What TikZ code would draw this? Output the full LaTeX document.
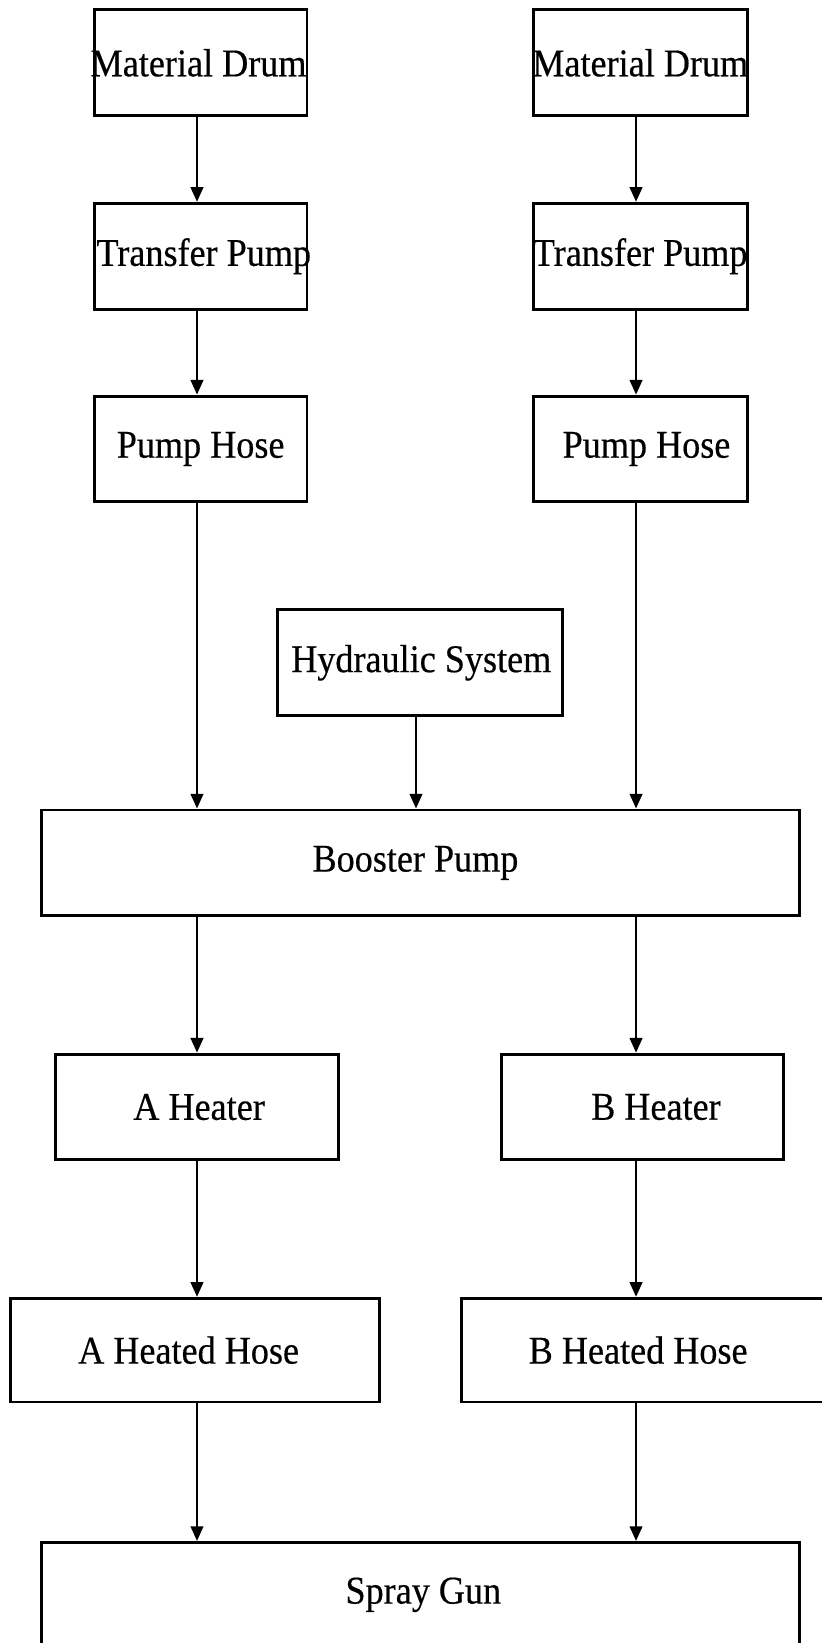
\documentclass[tikz,border=0pt]{standalone}
\usepackage{fontspec}
\setmainfont[FakeStretch=0.92,FakeBold=0.4]{Liberation Serif}
\usetikzlibrary{arrows.meta}
\newcommand{\boxtext}[2]{\makebox[0pt]{\hspace*{#1}#2}}
\begin{document}
\begin{tikzpicture}[x=1pt,y=-1pt,
  box/.style={draw, line width=2.8pt, rectangle, inner sep=0pt, minimum height=101pt,
    font=\fontsize{37.5}{42}\selectfont},
  arr/.style={line width=2.2pt, -{Triangle[length=14pt,width=12pt]}}]
\useasboundingbox (0,0) rectangle (784,1568);
\fill[white] (0,0) rectangle (784,1568);
\coordinate (xl) at (188,0);
\coordinate (xr) at (607,0);
\coordinate (xm) at (397,0);
\node[box, minimum width=203pt] (md1) at (191.5,60) {\boxtext{-4pt}{Material Drum}};
\node[box, minimum width=204pt] (md2) at (611,60) {\boxtext{0pt}{Material Drum}};
\node[box, minimum width=203pt] (tp1) at (191.5,244.5) {\boxtext{6pt}{Transfer Pump}};
\node[box, minimum width=204pt] (tp2) at (611,244.5) {\boxtext{0pt}{Transfer Pump}};
\node[box, minimum width=203pt] (ph1) at (191.5,428.5) {\boxtext{0pt}{Pump Hose}};
\node[box, minimum width=204pt] (ph2) at (611,428.5) {\boxtext{12pt}{Pump Hose}};
\node[box, minimum width=272pt] (hs) at (401,632.5) {\boxtext{2pt}{Hydraulic System}};
\node[box, minimum width=723pt] (bp) at (401.5,823.5) {\boxtext{-10pt}{Booster Pump}};
\node[box, minimum width=270pt] (ah) at (188,1056.5) {\boxtext{4pt}{A Heater}};
\node[box, minimum width=269pt] (bh) at (613.5,1056.5) {\boxtext{25pt}{B Heater}};
\node[box, minimum width=352pt, minimum height=99pt] (ahh) at (186,1288.5) {\boxtext{-12pt}{A Heated Hose}};
\node[box, minimum width=346pt, minimum height=99pt] (bhh) at (613,1288.5) {\boxtext{-8pt}{B Heated Hose}};
\node[box, minimum width=723pt, minimum height=100pt] (sg) at (401.5,1522) {\boxtext{5pt}{Spray Gun}};
\draw[arr] (md1.south -| xl) -- (tp1.north -| xl);
\draw[arr] (md2.south -| xr) -- (tp2.north -| xr);
\draw[arr] (tp1.south -| xl) -- (ph1.north -| xl);
\draw[arr] (tp2.south -| xr) -- (ph2.north -| xr);
\draw[arr] (ph1.south -| xl) -- (bp.north -| xl);
\draw[arr] (ph2.south -| xr) -- (bp.north -| xr);
\draw[arr] (hs.south -| xm) -- (bp.north -| xm);
\draw[arr] (bp.south -| xl) -- (ah.north -| xl);
\draw[arr] (bp.south -| xr) -- (bh.north -| xr);
\draw[arr] (ah.south -| xl) -- (ahh.north -| xl);
\draw[arr] (bh.south -| xr) -- (bhh.north -| xr);
\draw[arr] (ahh.south -| xl) -- (sg.north -| xl);
\draw[arr] (bhh.south -| xr) -- (sg.north -| xr);
\end{tikzpicture}
\end{document}
